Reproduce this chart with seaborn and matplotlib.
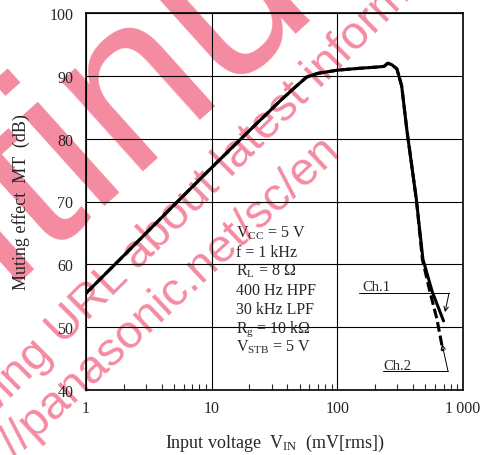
import matplotlib
matplotlib.use("Agg")
import matplotlib.pyplot as plt
from matplotlib.ticker import FixedLocator, NullFormatter, LogLocator
import seaborn as sns

# Ch.1 (solid) and Ch.2 (dashed): input voltage (mV rms) vs muting effect (dB)
ch1_vin = [1, 2, 5, 10, 20, 35, 45, 57, 70, 100, 150, 207, 235, 252, 270, 298,
           325, 359, 425, 480, 530, 570, 700]
ch1_mt = [55.4, 61.4, 69.4, 75.4, 81.3, 86.0, 88.0, 89.8, 90.4, 90.9, 91.2, 91.4,
          91.5, 92.0, 91.8, 91.1, 88.4, 81.1, 70.4, 60.8, 57.8, 55.6, 51.0]
ch2_vin = [1, 2, 5, 10, 20, 35, 45, 57, 70, 100, 150, 207, 235, 252, 270, 298,
           325, 359, 425, 475, 546, 620, 693]
ch2_mt = [55.4, 61.4, 69.4, 75.4, 81.3, 86.0, 88.0, 89.8, 90.4, 90.9, 91.2, 91.4,
          91.5, 92.0, 91.8, 91.1, 88.4, 81.1, 70.4, 60.8, 55.6, 51.3, 46.2]

x_ticks = [1, 10, 100, 1000]
x_tick_labels = ["1", "10", "100", "1\u2009000"]
y_ticks = [40, 50, 60, 70, 80, 90, 100]

conditions = [
    r"V$_{\mathrm{CC}}$ = 5 V",
    "f = 1 kHz",
    r"R$_{\mathrm{L}}$ = 8 Ω",
    "400 Hz HPF",
    "30 kHz LPF",
    r"R$_{\mathrm{g}}$ = 10 kΩ",
    r"V$_{\mathrm{STB}}$ = 5 V",
]

W, H = 489, 456
PINK = "#f48ba0"

sns.set_style("white")
plt.rcParams["font.family"] = ["Liberation Serif", "DejaVu Serif"]
plt.rcParams["mathtext.fontset"] = "custom"
plt.rcParams["mathtext.rm"] = "Liberation Serif"
plt.rcParams["mathtext.it"] = "Liberation Serif:italic"
plt.rcParams["mathtext.bf"] = "Liberation Serif:bold"


def fpx(x, y):
    # pixel position -> figure fraction
    return x / W, 1 - y / H


fig = plt.figure(figsize=(W / 100, H / 100), dpi=100)
ax = fig.add_axes([86 / W, 1 - 391 / H, 377 / W, 377 / H])
ax.patch.set_visible(False)

# watermark, behind the chart
wm = dict(family="Liberation Sans", color=PINK, zorder=-1, ha="left",
          va="baseline", rotation_mode="anchor")
fig.text(*fpx(-482, 718), "Discontinued", fontsize=166, rotation=42, **wm)
fig.text(*fpx(-254, 663), "Please visit following URL about latest information.",
         fontsize=34, rotation=45, **wm)
fig.text(*fpx(-52, 519), "http://panasonic.net/sc/en", fontsize=34, rotation=43, **wm)

sns.lineplot(x=ch2_vin, y=ch2_mt, ax=ax, color="black", lw=2.2, sort=False)
ax.lines[-1].set_dashes([3.2, 1.3])
sns.lineplot(x=ch1_vin, y=ch1_mt, ax=ax, color="black", lw=2.2, sort=False)

ax.set_xscale("log")
ax.set_xlim(1, 1000)
ax.set_ylim(40, 100)

ax.xaxis.set_major_locator(FixedLocator(x_ticks))
ax.set_xticklabels(x_tick_labels)
ax.xaxis.set_minor_locator(LogLocator(base=10, subs=range(2, 10)))
ax.xaxis.set_minor_formatter(NullFormatter())
ax.set_yticks(y_ticks)
ax.set_yticklabels([str(v) for v in y_ticks])

ax.tick_params(axis="x", which="major", length=0, pad=7, labelsize=11.5)
ax.tick_params(axis="x", which="minor", direction="in", length=4, width=0.8,
               bottom=True, top=False)
ax.tick_params(axis="y", which="both", length=0, pad=9, labelsize=11.5)

ax.grid(True, which="major", color="black", linewidth=0.8)
for sp in ax.spines.values():
    sp.set_color("black")
    sp.set_linewidth(1.2)

ax.set_xlabel(r"Input voltage  V$_{\mathrm{IN}}$  (mV[rms])", fontsize=13)
ax.set_ylabel("Muting effect  MT  (dB)", fontsize=13)
ax.xaxis.set_label_coords(0.5, (391 - 433) / 377)
ax.yaxis.set_label_coords((30 - 86) / 377, 0.5)

# measurement conditions
for i, line in enumerate(conditions):
    ax.text((236 - 86) / 377, (391 - (238 + 19 * i)) / 377, line,
            transform=ax.transAxes, fontsize=11.5, va="baseline", ha="left")

# channel labels with leader lines
ax.text(157, 55.9, "Ch.1", fontsize=10.5, va="baseline", ha="left")
ax.plot([149, 774], [55.4, 55.4], color="black", lw=0.7)
ax.annotate("", xy=(719, 52.4), xytext=(774, 55.4),
            arrowprops=dict(arrowstyle="->", lw=0.7, color="black", mutation_scale=8,
                            shrinkA=0, shrinkB=0))
ax.text(231, 43.3, "Ch.2", fontsize=10.5, va="baseline", ha="left")
ax.plot([231, 760], [43.0, 43.0], color="black", lw=0.7)
ax.annotate("", xy=(681, 47.3), xytext=(760, 43.0),
            arrowprops=dict(arrowstyle="->", lw=0.7, color="black", mutation_scale=8,
                            shrinkA=0, shrinkB=0))

fig.savefig("out.png", dpi=100)
